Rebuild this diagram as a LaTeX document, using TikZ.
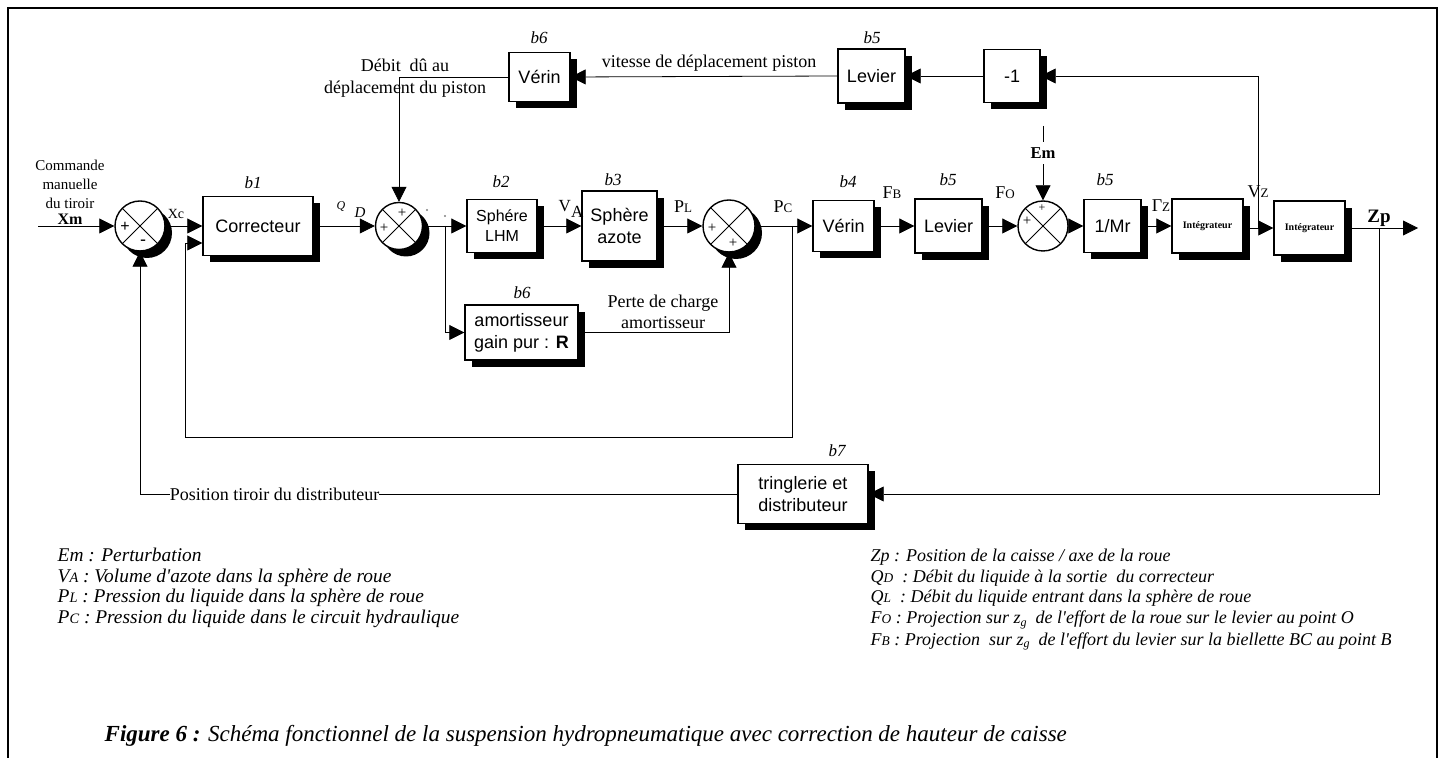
\documentclass[tikz,border=0pt]{standalone}
\usepackage{fontspec}
\setmainfont{Liberation Serif}
\setsansfont{Liberation Sans}
\usetikzlibrary{arrows.meta,shadows,backgrounds}
\newcommand{\fs}[2]{\fontsize{#1}{#2}\selectfont}
\newcommand{\sm}[1]{{\fontsize{6.5}{7}\selectfont #1}}
\newcommand{\lsm}[1]{{\fontsize{7.2}{8}\selectfont #1}}
\newcommand{\rsm}[1]{{\fontsize{6.7}{8}\selectfont #1}}
\begin{document}
\begin{tikzpicture}[x=0.5pt,y=-0.5pt,
  line width=0.7pt,
  >={Triangle[length=7.5pt,width=7.5pt]},
  shd/.style={general shadow={fill=black,shadow xshift=3.5pt,shadow yshift=-3.5pt}},
  blk/.style n args={2}{draw,fill=white,shd,inner sep=1pt,align=center,
     font=\sffamily\fs{9}{11},minimum width=#1*0.5pt,minimum height=#2*0.5pt},
  sum/.style={circle,draw,fill=white,inner sep=0pt,minimum size=#1*1pt,
     path picture={\draw[line width=0.5pt] (path picture bounding box.north west)--(path picture bounding box.south east)
       (path picture bounding box.north east)--(path picture bounding box.south west);}},
  bl/.style={font=\itshape\fs{8.5}{10},inner sep=0pt},
  txt/.style={font=\fs{9}{10.5},inner sep=0pt,align=center},
  sg/.style={font=\fs{7.5}{8},inner sep=0pt},
  leg/.style={anchor=base west,font=\itshape\fs{9.7}{10.5},inner sep=0pt},
  legr/.style={anchor=base west,font=\itshape\fs{9}{10.5},inner sep=0pt},
]
\useasboundingbox (0,0) rectangle (1445,758);
\clip (0,0) rectangle (1445,758);
% frame
\draw[line width=1pt] (8,780) -- (8,8) -- (1437,8) -- (1437,780);

% main chain
\node[sum=25,shd] (j1) at (140,226) {};
\node[blk={110}{59}] (cor) at (258,226) {Correcteur};
\node[sum=23.5,shd] (j2) at (399,226) {};
\node[blk={70}{53},font=\sffamily\fs{8}{10}] (lhm) at (502,226) {Sphére\\LHM};
\node[blk={75}{70}] (azo) at (619.5,226) {Sphère\\azote};
\node[sum=26,shd] (j4) at (729,226) {};
\node[blk={61}{51}] (ver) at (843.5,226) {Vérin};
\node[blk={67}{54}] (lev) at (948.5,226) {Levier};
\node[sum=25] (j3) at (1043,226) {};
\node[blk={57}{53}] (mr) at (1112.5,226) {1/Mr};
\node[blk={71}{54},font=\bfseries\fs{5}{6}] (in1) at (1207.5,226) {Intégrateur};
\node[blk={71}{54},font=\bfseries\fs{5}{6}] (in2) at (1309.5,228) {Intégrateur};
\node[blk={113}{55}] (amo) at (521.5,332.5) {amortisseur\\gain pur : \textbf{R}};
% top row
\node[blk={61}{49}] (vt) at (539.5,77) {Vérin};
\node[blk={67}{54}] (lt) at (871.5,76) {Levier};
\node[blk={56}{53}] (m1) at (1012,76) {-1};
% bottom
\node[blk={130}{59}] (b7) at (803,494) {tringlerie et\\distributeur};

% free points
\coordinate (xin) at (38,226);
\coordinate (zout) at (1418,228);
\coordinate (emtop) at (1043,126);
\coordinate (pbr) at (445,226);
\coordinate (pcb) at (792,226);
\coordinate (vzb) at (1258,228);
\coordinate (zpb) at (1379,228);

\begin{scope}[on background layer]
\draw[->] (xin) -- (j1.west);
\draw[->] (j1.east) -- (cor.west);
\draw[->] (cor.east) -- (j2.west);
\draw[->] (j2.east) -- (lhm.west);
\draw[->] (pbr) |- (amo.west);
\draw[->] (lhm.east) -- (azo.west);
\draw[->] (azo.east) -- (j4.west);
\draw[->] (amo.east) -| (j4.south);
\draw[->] (j4.east) -- (ver.west);
\draw[->] (pcb) -- (792,437) -- (185,437) -- (185,243) -- (cor.west |- 0,243);
\draw[->] (ver.east) -- (lev.west);
\draw[->] (lev.east) -- (j3.west);
\draw[->] (j3.east) -- (mr.west);
\draw[->] (mr.east) -- (in1.west |- mr.east);
\draw[->] (in1.east |- in2.west) -- (in2.west);
\draw[->] (in2.east |- zout) -- (zout);
\draw[->] (vzb) -- (1258,76) -- (m1.east);
\draw[->] (m1.west) -- (lt.east);
\draw[->] (lt.west) -- (vt.east);
\draw[->] (vt.west) -- (j2.north |- vt.west) -- (j2.north);
\draw[->] (emtop) -- (j3.north);
\draw[->] (zpb) |- (b7.east);
\draw[->] (b7.west) -| (j1.south);
\end{scope}

% signs
\node[sg,font=\sffamily\fs{8}{8}] at (125,227) {+};
\node[sg,font=\sffamily\fs{9}{9}] at (143,243) {-};
\node[sg] at (402,213) {+};
\node[sg] at (384,228) {+};
\node[sg] at (712,228) {+};
\node[sg] at (733,243) {+};
\node[sg,font=\fs{6}{6}] at (1042,208) {+};
\node[sg] at (1027,221) {+};

% block labels
\node[bl] at (253,183) {b1};
\node[bl] at (501,182) {b2};
\node[bl] at (613,180) {b3};
\node[bl] at (848,182) {b4};
\node[bl] at (948,180) {b5};
\node[bl] at (1105,180) {b5};
\node[bl] at (522,293) {b6};
\node[bl] at (539,38) {b6};
\node[bl] at (872,38) {b5};
\node[bl] at (837,451) {b7};

% signal labels
\node[txt,font=\fs{7.5}{9.5}] at (70,184) {Commande\\manuelle\\du tiroir};
\node[anchor=base,inner sep=0pt,font=\bfseries\fs{8}{9}] at (70,225) {Xm};
\node[inner sep=0pt,font=\fs{7}{8}] at (176,214) {Xc};
\node[inner sep=0pt,font=\itshape\fs{6}{7}] at (341,207) {Q};
\node[inner sep=0pt,font=\itshape\fs{7.5}{8}] at (360,213) {D};
\fill[gray] (427,210) circle (0.6pt) (445,216) circle (0.6pt);
\node[inner sep=0pt,font=\fs{8.5}{10}] at (571,209) {V\raisebox{-3pt}{A}};
\node[inner sep=0pt,font=\fs{9}{10}] at (683,207) {P\sm{L}};
\node[inner sep=0pt,font=\fs{9}{10}] at (783,207) {P\sm{C}};
\node[inner sep=0pt,font=\fs{9}{10}] at (892,193) {F\sm{B}};
\node[inner sep=0pt,font=\fs{9}{10}] at (1005,193) {F\sm{O}};
\node[inner sep=0pt,font=\fs{9}{10}] at (1161,206) {Γ\sm{Z}};
\node[inner sep=0pt,font=\fs{9}{10}] at (1258,192) {V\sm{Z}};
\node[inner sep=0pt,font=\bfseries\fs{9.5}{11}] at (1379,218) {Zp};
\node[font=\bfseries\fs{8.3}{9},fill=white,inner xsep=1pt,inner ysep=3pt] (em) at (1043,153) {Em};
\node[txt] at (663,312) {Perte de charge\\amortisseur};
\node[txt,font=\fs{9}{11}] at (405,78) {Débit~ dû au\\déplacement du piston};
\node[txt] at (709,63) {vitesse de déplacement piston};
\node[txt,fill=white,inner xsep=0pt,inner ysep=2pt] at (274.5,494) {Position tiroir du distributeur};

% legend
\node[leg] at (57,561) {Em : Perturbation};
\node[leg] at (57,582) {V\lsm{A} : Volume d\textquotesingle azote dans la sphère de roue};
\node[leg] at (57,603) {P\lsm{L} : Pression du liquide dans la sphère de roue};
\node[leg] at (57,624) {P\lsm{C} : Pression du liquide dans le circuit hydraulique};
\node[legr] at (870,561) {Zp : Position de la caisse / axe de la roue};
\node[legr] at (870,582) {Q\rsm{D}~ : Débit du liquide à la sortie~ du correcteur};
\node[legr] at (870,603) {Q\rsm{L}~ : Débit du liquide entrant dans la sphère de roue};
\node[legr] at (870,624) {F\rsm{O} : Projection sur z\raisebox{-1.5pt}{\fs{6}{7}g}~ de l\textquotesingle effort de la roue sur le levier au point O};
\node[legr] at (870,645) {F\rsm{B} : Projection~ sur z\raisebox{-1.5pt}{\fs{6}{7}g}~ de l\textquotesingle effort du levier sur la biellette BC au point B};

% caption
\node[anchor=base west,inner sep=0pt,font=\itshape\fs{11.5}{13}] at (104,741) {\textbf{Figure 6 :} Schéma fonctionnel de la suspension hydropneumatique avec correction de hauteur de caisse};
\end{tikzpicture}
\end{document}
